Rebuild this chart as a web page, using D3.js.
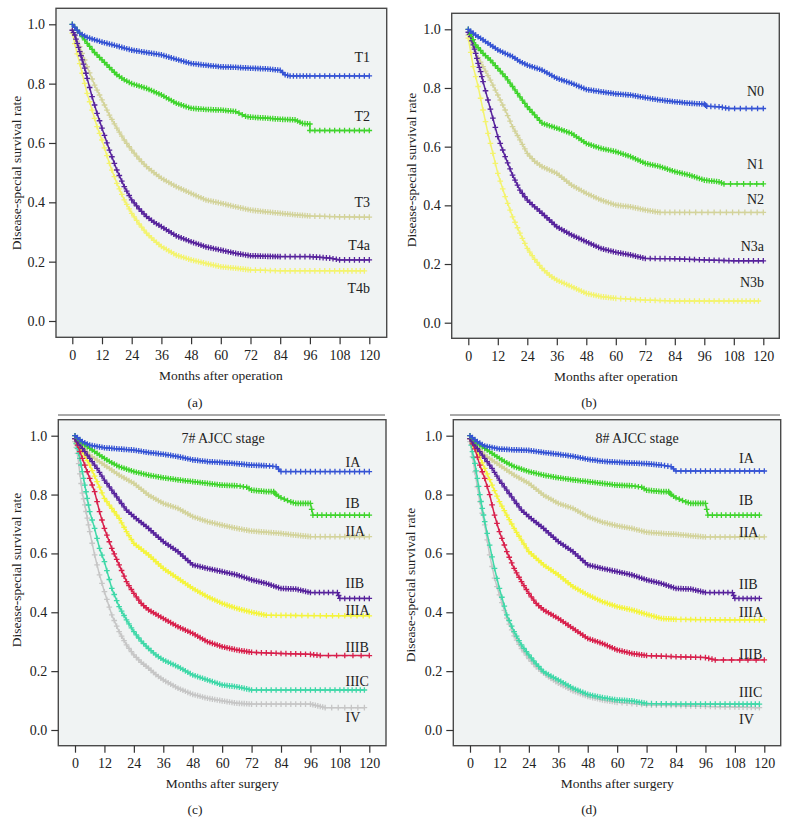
<!DOCTYPE html>
<html><head><meta charset="utf-8">
<script src="https://cdn.jsdelivr.net/npm/d3@7/dist/d3.min.js"></script>
<style>body{margin:0;background:#fff}svg{display:block}text{font-family:"Liberation Serif","DejaVu Serif",serif;fill:#222}</style>
</head><body><svg id="c" width="789" height="835"></svg>
<script>
// ---- tick labels ----
const monthTicks = [0,12,24,36,48,60,72,84,96,108,120];
const rateTicks = [0.0,0.2,0.4,0.6,0.8,1.0];

// ---- panel (a): T stage ----
const T1 = [[0,1.0],[3,0.97],[6,0.956],[9,0.948],[12,0.94],[18,0.927],[24,0.913],[30,0.905],[36,0.897],[42,0.882],[48,0.868],[54,0.862],[60,0.857],[66,0.855],[72,0.852],[78,0.85],[84,0.845],[86,0.83],[88,0.826],[96,0.826],[108,0.826],[120,0.826]];
const T2 = [[0,1.0],[3,0.97],[6,0.936],[9,0.905],[12,0.88],[15,0.855],[18,0.83],[21,0.813],[24,0.80],[30,0.784],[36,0.762],[42,0.734],[48,0.717],[54,0.713],[60,0.711],[66,0.706],[70,0.69],[72,0.687],[78,0.684],[84,0.68],[90,0.678],[93,0.666],[96,0.664],[96,0.642],[108,0.642],[120,0.642]];
const T3 = [[0,0.98],[3,0.925],[6,0.857],[9,0.795],[12,0.745],[15,0.694],[18,0.65],[21,0.61],[24,0.576],[27,0.546],[30,0.52],[33,0.5],[36,0.481],[42,0.453],[48,0.43],[54,0.408],[60,0.397],[66,0.385],[72,0.374],[78,0.368],[84,0.363],[90,0.358],[96,0.354],[108,0.351],[120,0.35]];
const T4a = [[0,0.98],[1,0.964],[2,0.936],[3,0.908],[4,0.88],[5,0.852],[6,0.818],[8,0.756],[10,0.70],[12,0.65],[15,0.576],[18,0.509],[21,0.453],[24,0.408],[27,0.378],[30,0.352],[33,0.333],[36,0.318],[42,0.287],[48,0.267],[54,0.25],[60,0.239],[66,0.228],[72,0.22],[78,0.218],[84,0.217],[96,0.217],[104,0.212],[108,0.206],[120,0.206]];
const T4b = [[0,0.97],[2,0.9],[4,0.835],[6,0.767],[8,0.711],[10,0.655],[12,0.61],[15,0.531],[18,0.464],[21,0.408],[24,0.363],[27,0.327],[30,0.296],[33,0.272],[36,0.251],[42,0.222],[48,0.206],[54,0.194],[60,0.183],[66,0.178],[72,0.172],[84,0.169],[96,0.169],[108,0.169],[118,0.169]];

// ---- panel (b): N stage ----
const N0 = [[0,1.0],[3,0.98],[6,0.964],[9,0.947],[12,0.93],[15,0.918],[18,0.907],[21,0.89],[24,0.878],[30,0.861],[36,0.833],[42,0.816],[48,0.795],[54,0.787],[60,0.78],[66,0.776],[72,0.767],[78,0.759],[84,0.753],[90,0.748],[96,0.745],[97,0.738],[102,0.736],[106,0.73],[120,0.73]];
const N1 = [[0,1.0],[3,0.947],[6,0.918],[9,0.895],[12,0.867],[15,0.839],[18,0.805],[21,0.77],[24,0.736],[27,0.708],[30,0.68],[36,0.663],[42,0.645],[48,0.611],[54,0.594],[60,0.583],[66,0.566],[72,0.543],[78,0.532],[84,0.515],[90,0.503],[96,0.486],[102,0.48],[104,0.473],[120,0.473]];
const N2 = [[0,0.98],[3,0.918],[6,0.873],[9,0.827],[12,0.776],[15,0.725],[18,0.668],[21,0.623],[24,0.577],[27,0.55],[30,0.532],[36,0.509],[42,0.469],[48,0.441],[54,0.418],[60,0.401],[66,0.395],[72,0.384],[78,0.376],[90,0.376],[105,0.376],[120,0.376]];
const N3a = [[0,0.99],[1,0.975],[2,0.947],[3,0.918],[4,0.884],[5,0.856],[6,0.822],[8,0.759],[10,0.697],[12,0.634],[15,0.566],[18,0.503],[21,0.452],[24,0.418],[27,0.395],[30,0.373],[33,0.35],[36,0.327],[42,0.299],[48,0.276],[54,0.253],[60,0.24],[66,0.231],[72,0.219],[84,0.218],[96,0.214],[108,0.211],[120,0.211]];
const N3b = [[0,0.97],[2,0.873],[4,0.805],[6,0.725],[8,0.645],[10,0.577],[12,0.509],[15,0.43],[18,0.361],[21,0.305],[24,0.253],[27,0.216],[30,0.185],[33,0.162],[36,0.145],[42,0.123],[48,0.1],[54,0.089],[60,0.083],[72,0.077],[84,0.074],[96,0.074],[108,0.074],[118,0.074]];

// ---- panel (c): 7th AJCC ----
const IA7 = [[0,1.0],[3,0.98],[6,0.968],[12,0.959],[18,0.955],[24,0.951],[30,0.943],[36,0.937],[42,0.929],[48,0.918],[54,0.912],[60,0.909],[66,0.905],[72,0.9],[78,0.898],[82,0.895],[84,0.878],[96,0.878],[108,0.878],[120,0.878]];
const IB7 = [[0,1.0],[3,0.975],[6,0.957],[9,0.94],[12,0.923],[15,0.908],[18,0.895],[24,0.878],[30,0.866],[36,0.857],[42,0.85],[48,0.844],[54,0.838],[60,0.832],[66,0.83],[70,0.825],[72,0.815],[78,0.81],[81,0.81],[82,0.8],[84,0.789],[88,0.775],[90,0.77],[96,0.77],[97,0.73],[108,0.73],[120,0.73]];
const IIA7 = [[0,1.0],[3,0.965],[6,0.934],[9,0.917],[12,0.9],[18,0.866],[24,0.838],[30,0.798],[36,0.77],[42,0.753],[48,0.725],[54,0.708],[60,0.696],[66,0.685],[72,0.676],[78,0.672],[84,0.668],[90,0.662],[96,0.657],[108,0.657],[120,0.657]];
const IIB7 = [[0,0.99],[3,0.957],[6,0.923],[9,0.889],[12,0.849],[15,0.815],[18,0.781],[21,0.747],[24,0.725],[30,0.685],[36,0.64],[42,0.606],[48,0.561],[54,0.549],[60,0.538],[66,0.527],[72,0.51],[78,0.498],[84,0.481],[90,0.479],[96,0.467],[107,0.467],[108,0.447],[120,0.447]];
const IIIA7 = [[0,0.99],[3,0.946],[6,0.9],[9,0.844],[12,0.787],[15,0.753],[18,0.719],[21,0.674],[24,0.634],[30,0.595],[36,0.549],[42,0.515],[48,0.481],[54,0.453],[60,0.43],[66,0.413],[72,0.4],[78,0.39],[90,0.389],[105,0.388],[120,0.388]];
const IIIB7 = [[0,0.99],[2,0.946],[4,0.9],[6,0.855],[8,0.81],[10,0.742],[12,0.685],[15,0.617],[18,0.561],[21,0.504],[24,0.464],[27,0.43],[30,0.408],[36,0.379],[42,0.351],[48,0.328],[54,0.3],[60,0.283],[66,0.272],[72,0.264],[84,0.26],[96,0.257],[100,0.253],[120,0.253]];
const IIIC7 = [[0,0.99],[1,0.957],[2,0.923],[3,0.878],[4,0.832],[5,0.787],[6,0.742],[8,0.685],[10,0.617],[12,0.572],[15,0.481],[18,0.419],[21,0.374],[24,0.334],[27,0.302],[30,0.277],[33,0.255],[36,0.238],[42,0.215],[48,0.187],[54,0.17],[60,0.153],[66,0.147],[72,0.136],[84,0.136],[96,0.136],[108,0.136],[118,0.136]];
const IV7 = [[0,0.98],[1,0.94],[2,0.87],[3,0.805],[4,0.765],[5,0.72],[6,0.674],[8,0.595],[10,0.527],[12,0.47],[15,0.391],[18,0.334],[21,0.289],[24,0.255],[27,0.23],[30,0.21],[33,0.188],[36,0.17],[42,0.142],[48,0.121],[54,0.108],[60,0.099],[66,0.091],[72,0.088],[84,0.088],[96,0.088],[102,0.076],[118,0.076]];

// ---- panel (d): 8th AJCC ----
const IA8 = [[0,1.0],[3,0.98],[6,0.965],[12,0.955],[18,0.952],[24,0.95],[30,0.943],[36,0.937],[42,0.93],[48,0.92],[54,0.913],[60,0.91],[66,0.907],[72,0.905],[78,0.9],[82,0.895],[84,0.88],[96,0.88],[108,0.88],[120,0.88]];
const IB8 = [[0,1.0],[3,0.975],[6,0.957],[9,0.94],[12,0.923],[15,0.908],[18,0.895],[24,0.878],[30,0.866],[36,0.857],[42,0.85],[48,0.844],[54,0.838],[60,0.832],[66,0.83],[70,0.825],[72,0.815],[78,0.81],[81,0.81],[82,0.8],[84,0.789],[88,0.775],[90,0.77],[96,0.77],[97,0.73],[108,0.73],[118,0.73]];
const IIA8 = [[0,1.0],[3,0.965],[6,0.934],[9,0.917],[12,0.9],[18,0.866],[24,0.838],[30,0.798],[36,0.77],[42,0.753],[48,0.725],[54,0.706],[60,0.694],[66,0.685],[72,0.672],[78,0.668],[84,0.665],[90,0.66],[96,0.656],[108,0.656],[120,0.656]];
const IIB8 = [[0,0.99],[3,0.957],[6,0.923],[9,0.889],[12,0.849],[15,0.815],[18,0.781],[21,0.747],[24,0.725],[30,0.685],[36,0.64],[42,0.606],[48,0.561],[54,0.549],[60,0.538],[66,0.527],[72,0.51],[78,0.498],[84,0.481],[90,0.479],[96,0.467],[107,0.467],[108,0.447],[118,0.447]];
const IIIA8 = [[0,0.99],[3,0.946],[6,0.889],[9,0.832],[12,0.776],[15,0.73],[18,0.685],[21,0.645],[24,0.606],[30,0.561],[36,0.527],[42,0.487],[48,0.459],[54,0.436],[60,0.419],[66,0.408],[72,0.393],[78,0.379],[84,0.376],[96,0.375],[108,0.374],[120,0.374]];
const IIIB8 = [[0,0.99],[2,0.955],[4,0.9],[6,0.855],[8,0.8],[10,0.73],[12,0.674],[15,0.606],[18,0.549],[21,0.504],[24,0.464],[27,0.43],[30,0.408],[36,0.379],[42,0.345],[48,0.311],[54,0.294],[60,0.272],[66,0.26],[72,0.253],[84,0.249],[96,0.246],[100,0.238],[120,0.238]];
const IIIC8 = [[0,0.99],[1,0.946],[2,0.906],[3,0.855],[4,0.8],[5,0.753],[6,0.708],[8,0.628],[10,0.549],[12,0.481],[15,0.391],[18,0.334],[21,0.289],[24,0.255],[27,0.225],[30,0.198],[33,0.183],[36,0.17],[42,0.142],[48,0.121],[54,0.11],[60,0.102],[66,0.099],[72,0.09],[84,0.088],[96,0.088],[108,0.088],[118,0.088]];
const IV8 = [[0,0.98],[2,0.877],[4,0.776],[6,0.697],[8,0.595],[10,0.516],[12,0.459],[15,0.38],[18,0.32],[21,0.277],[24,0.243],[27,0.215],[30,0.193],[33,0.175],[36,0.159],[42,0.133],[48,0.114],[54,0.102],[60,0.094],[72,0.085],[84,0.083],[96,0.08],[108,0.078],[118,0.076]];

// ---- colours ----
const C = {blue:"#3553d4", green:"#3fd42c", tan:"#d3d39b", purple:"#57239c", yellow:"#f3f36e",
  ylw2:"#f4f43c", red:"#d8204c", teal:"#3fd8a8", gray:"#c6c6c6"};

const panels = [
  {tag:"(a)", xTitle:"Months after operation", box:[56,8.3,386.7,337.3], x:[72.3,369.3], y:[321,24.3],
   tickY:355, xTitleY:380, tagX:195, tagY:407, yTitleX:16, yTitleY:173, sep:[58,385,415], anchor:"end", labelX:370,
   series:[
    {name:"T3", data:T3, color:C.tan, ly:202},
    {name:"T4b", data:T4b, color:C.yellow, ly:288},
    {name:"T4a", data:T4a, color:C.purple, ly:245},
    {name:"T2", data:T2, color:C.green, ly:116},
    {name:"T1", data:T1, color:C.blue, ly:57}]},
  {tag:"(b)", xTitle:"Months after operation", box:[451.7,13.3,779.3,338.3], x:[468.3,763.3], y:[322.7,29.3],
   tickY:356, xTitleY:380.5, tagX:589, tagY:407, yTitleX:411, yTitleY:170, sep:[450,780,415], anchor:"end", labelX:764,
   series:[
    {name:"N2", data:N2, color:C.tan, ly:199},
    {name:"N3b", data:N3b, color:C.yellow, ly:282},
    {name:"N3a", data:N3a, color:C.purple, ly:246},
    {name:"N1", data:N1, color:C.green, ly:164},
    {name:"N0", data:N0, color:C.blue, ly:91}]},
  {tag:"(c)", xTitle:"Months after surgery", title:"7# AJCC stage", titleX:223, titleY:438,
   box:[58.3,419.7,386,745.7], x:[75,369.3], y:[730,435.7],
   tickY:763.3, xTitleY:788, tagX:195, tagY:814, yTitleX:16, yTitleY:570, anchor:"start", labelX:345.5,
   series:[
    {name:"IV", data:IV7, color:C.gray, ly:717.7},
    {name:"IIIC", data:IIIC7, color:C.teal, ly:681},
    {name:"IIA", data:IIA7, color:C.tan, ly:531.7},
    {name:"IIIA", data:IIIA7, color:C.ylw2, ly:610},
    {name:"IIIB", data:IIIB7, color:C.red, ly:647.3},
    {name:"IIB", data:IIB7, color:C.purple, ly:583},
    {name:"IB", data:IB7, color:C.green, ly:503},
    {name:"IA", data:IA7, color:C.blue, ly:462.3}]},
  {tag:"(d)", xTitle:"Months after surgery", title:"8# AJCC stage", titleX:637, titleY:438,
   box:[453.3,419.7,780.7,745.7], x:[470,764.3], y:[730,435.7],
   tickY:763.3, xTitleY:788, tagX:589, tagY:814, yTitleX:410, yTitleY:585, anchor:"start", labelX:739,
   series:[
    {name:"IV", data:IV8, color:C.gray, ly:719},
    {name:"IIIC", data:IIIC8, color:C.teal, ly:692.3},
    {name:"IIA", data:IIA8, color:C.tan, ly:532.3},
    {name:"IIIA", data:IIIA8, color:C.ylw2, ly:612.7},
    {name:"IIIB", data:IIIB8, color:C.red, ly:654.3},
    {name:"IIB", data:IIB8, color:C.purple, ly:584},
    {name:"IB", data:IB8, color:C.green, ly:500},
    {name:"IA", data:IA8, color:C.blue, ly:458.3}]}
];

const svg = d3.select("#c");
const cross = "M-2.8,0H2.8M0,-2.8V2.8";

panels.forEach(p => {
  const g = svg.append("g");
  const [bx0,by0,bx1,by1] = p.box;
  const xs = d3.scaleLinear().domain([0,120]).range(p.x);
  const ys = d3.scaleLinear().domain([0,1]).range(p.y);

  g.append("rect").attr("x",bx0).attr("y",by0).attr("width",bx1-bx0).attr("height",by1-by0)
    .attr("fill","#f0f3f3").attr("stroke","#4a4a4a").attr("stroke-width",1.4);

  const xa = g.append("g").attr("transform",`translate(0,${by1})`)
    .call(d3.axisBottom(xs).tickValues(monthTicks).tickSize(7).tickPadding(4).tickFormat(d3.format("d")));
  xa.select(".domain").remove();
  xa.selectAll(".tick line").attr("stroke","#333").attr("stroke-width",1.2);
  xa.selectAll(".tick text").attr("y", null).attr("dy",null)
    .attr("transform",`translate(0,${p.tickY-by1})`).attr("dominant-baseline","central")
    .style("font-size","14px").style("font-family","'Liberation Serif',serif").attr("fill","#222");

  const ya = g.append("g").attr("transform",`translate(${bx0},0)`)
    .call(d3.axisLeft(ys).tickValues(rateTicks).tickSize(7).tickPadding(4).tickFormat(d3.format(".1f")));
  ya.select(".domain").remove();
  ya.selectAll(".tick line").attr("stroke","#333").attr("stroke-width",1.2);
  ya.selectAll(".tick text").style("font-size","14px").style("font-family","'Liberation Serif',serif").attr("fill","#222");

  const line = d3.line().x(d=>xs(d[0])).y(d=>ys(d[1])).curve(d3.curveLinear);
  p.series.forEach(s => {
    const sg = g.append("g");
    sg.append("path").datum(s.data).attr("d",line).attr("fill","none")
      .attr("stroke",s.color).attr("stroke-width",1.5);
    // censor marks at each point and along each segment
    const marks = [];
    for (let i=0;i<s.data.length;i++){
      marks.push(s.data[i]);
      if (i < s.data.length-1){
        const a = s.data[i], b = s.data[i+1];
        const dt = b[0]-a[0];
        const n = dt >= 6 ? 5 : (dt >= 3 ? 2 : (dt>0?1:0));
        for (let k=1;k<=n;k++){
          const t = k/(n+1);
          marks.push([a[0]+dt*t, a[1]+(b[1]-a[1])*t]);
        }
      }
    }
    sg.selectAll("path.m").data(marks).join("path").attr("class","m")
      .attr("d",cross).attr("transform",d=>`translate(${xs(d[0])},${ys(d[1])})`)
      .attr("stroke",s.color).attr("stroke-width",1.3).attr("fill","none");
    g.append("text").attr("x",p.labelX).attr("y",s.ly).attr("text-anchor",p.anchor)
      .attr("dominant-baseline","central").style("font-size","14px").text(s.name);
  });

  if (p.title) g.append("text").attr("x",p.titleX).attr("y",p.titleY).attr("text-anchor","middle")
      .attr("dominant-baseline","central").style("font-size","14px").text(p.title);

  g.append("text").attr("x",(p.x[0]+p.x[1])/2).attr("y",p.xTitleY).attr("text-anchor","middle")
    .style("font-size","13.5px").text(p.xTitle);
  g.append("text").attr("transform",`translate(${p.yTitleX},${p.yTitleY}) rotate(-90)`)
    .attr("text-anchor","middle").attr("dominant-baseline","central")
    .style("font-size","13.5px").text("Disease-special survival rate");
  g.append("text").attr("x",p.tagX).attr("y",p.tagY).attr("text-anchor","middle")
    .style("font-size","13.5px").text(p.tag);
  if (p.sep) g.append("line").attr("x1",p.sep[0]).attr("x2",p.sep[1]).attr("y1",p.sep[2]).attr("y2",p.sep[2])
    .attr("stroke","#555").attr("stroke-width",1);
});
</script></body></html>
